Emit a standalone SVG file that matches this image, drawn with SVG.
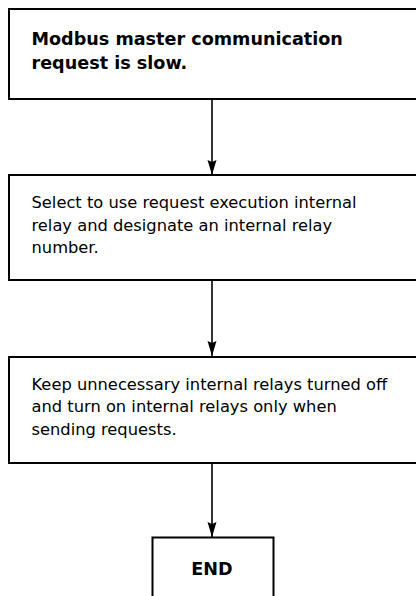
<svg xmlns="http://www.w3.org/2000/svg" width="416" height="596" viewBox="0 0 416 596">
<defs>
<style>
.box{fill:#fff;stroke:#000;stroke-width:2}
.t{font-family:"DejaVu Sans",Verdana,sans-serif;font-size:16.3px;fill:#000}
.b{font-weight:bold;font-size:17.6px}
.c{stroke:#000;stroke-width:1.6;fill:none}
</style>
<marker id="ah" viewBox="0 0 15 10" refX="15" refY="5" markerWidth="15" markerHeight="10" markerUnits="userSpaceOnUse" orient="auto">
<path d="M0,0.5 L15,5 L0,9.5 L2,5 Z" fill="#000"/>
</marker>
</defs>
<rect width="416" height="596" fill="#fff"/>
<g id="connectors">
<line class="c" x1="212" y1="99" x2="212" y2="175" marker-end="url(#ah)"/>
<line class="c" x1="212" y1="281" x2="212" y2="356" marker-end="url(#ah)"/>
<line class="c" x1="212" y1="463" x2="212" y2="537" marker-end="url(#ah)"/>
</g>
<g id="n1">
<rect class="box" x="9" y="9" width="420" height="90"/>
<text class="t b" x="31.5" y="45">Modbus master communication</text>
<text class="t b" x="31.5" y="69">request is slow.</text>
</g>
<g id="n2">
<rect class="box" x="9" y="175" width="420" height="105"/>
<text class="t" x="31.5" y="208">Select to use request execution internal</text>
<text class="t" x="31.5" y="230.5">relay and designate an internal relay</text>
<text class="t" x="31.5" y="253">number.</text>
</g>
<g id="n3">
<rect class="box" x="9" y="357" width="420" height="106"/>
<text class="t" x="31.5" y="389.5">Keep unnecessary internal relays turned off</text>
<text class="t" x="31.5" y="412">and turn on internal relays only when</text>
<text class="t" x="31.5" y="434.5">sending requests.</text>
</g>
<g id="end">
<rect class="box" x="152.5" y="537.5" width="121" height="70"/>
<text class="t b" x="212" y="575" text-anchor="middle">END</text>
</g>
</svg>
